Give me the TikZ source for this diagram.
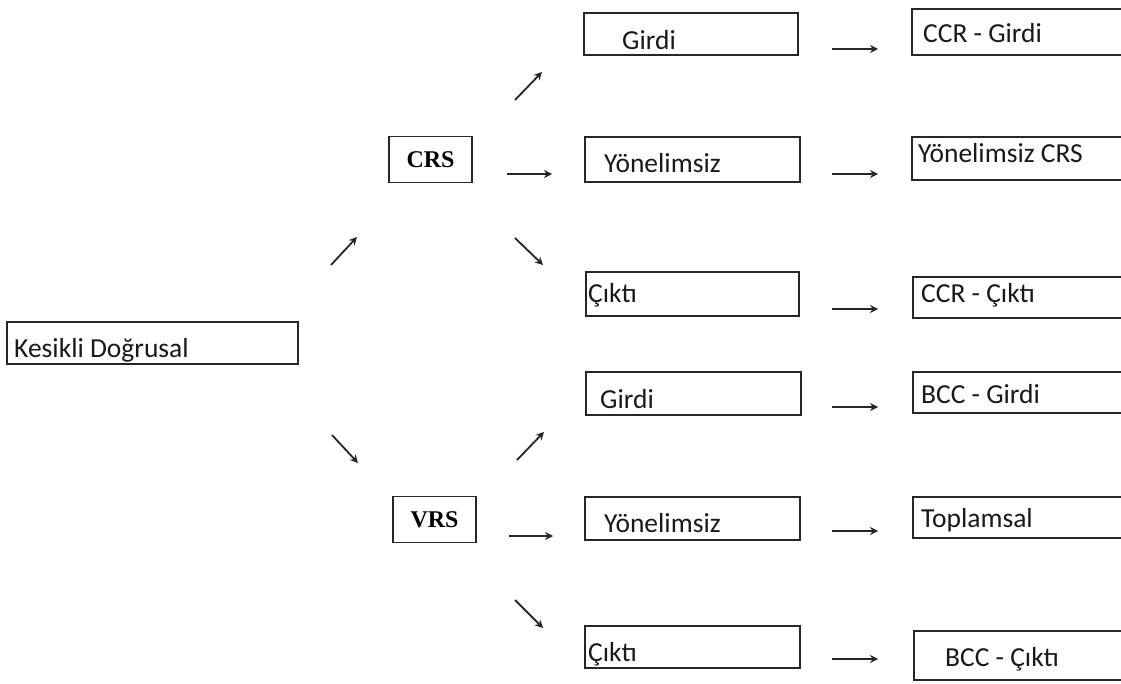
\documentclass[tikz,border=0pt]{standalone}
\usepackage{fontspec}
\setmainfont{Carlito}
\newfontfamily\serifbold{Liberation Serif}
\usetikzlibrary{arrows.meta}
\begin{document}
\begin{tikzpicture}[x=1pt,y=-1pt,
  box/.style={draw=black!85,line width=1.6pt},
  lbl/.style={anchor=base west,inner sep=0pt,font=\fontsize{27.5}{30}\selectfont,text=black!90},
  rs/.style={draw=black!85,line width=1.6pt,minimum width=83pt,minimum height=46pt,inner sep=0pt,font=\serifbold\bfseries\fontsize{24}{27}\selectfont},
  arr/.style={draw=black!85,line width=1.8pt,-{Stealth[length=8pt,width=8pt]}}]
\clip (0,0) rectangle (1121,684);
\fill[white] (0,0) rectangle (1121,684);
% boxes
\draw[box] (7,322) rectangle (298,364) coordinate[pos=0.5] (kd);
\node[rs] (crs) at (430.5,159.5) {CRS};
\node[rs] (vrs) at (434.5,519.5) {VRS};
% middle boxes
\draw[box] (584,13) rectangle (798,55) coordinate[pos=0.5] (m1);
\draw[box] (585,137) rectangle (800,182) coordinate[pos=0.5] (m2);
\draw[box] (586,272) rectangle (799,316) coordinate[pos=0.5] (m3);
\draw[box] (586,372) rectangle (801,415) coordinate[pos=0.5] (m4);
\draw[box] (585,497) rectangle (800,540) coordinate[pos=0.5] (m5);
\draw[box] (585,626) rectangle (800,668) coordinate[pos=0.5] (m6);
% right boxes (cut off at right edge)
\draw[box] (912,9) rectangle (1140,55) coordinate[pos=0.5] (r1);
\draw[box] (912,137) rectangle (1140,180) coordinate[pos=0.5] (r2);
\draw[box] (913,277) rectangle (1140,318) coordinate[pos=0.5] (r3);
\draw[box] (913,372) rectangle (1140,413) coordinate[pos=0.5] (r4);
\draw[box] (913,497) rectangle (1140,538) coordinate[pos=0.5] (r5);
\draw[box] (914,631) rectangle (1140,680) coordinate[pos=0.5] (r6);
% labels
\node[lbl] (tkd) at (14,357) {Kesikli Doğrusal};
\node[lbl] (t1) at (622,50) {Girdi};
\node[lbl] (t2) at (604,173) {Yönelimsiz};
\node[lbl] (t3) at (588,303) {Çıktı};
\node[lbl] (t4) at (600,408) {Girdi};
\node[lbl] (t5) at (604,532) {Yönelimsiz};
\node[lbl] (t6) at (588,661) {Çıktı};
\node[lbl] (u1) at (923,43) {CCR - Girdi};
\node[lbl] (u2) at (918,163) {Yönelimsiz CRS};
\node[lbl] (u3) at (921,303) {CCR - Çıktı};
\node[lbl] (u4) at (921,403) {BCC - Girdi};
\node[lbl] (u5) at (921,527) {Toplamsal};
\node[lbl] (u6) at (945,666) {BCC - Çıktı};
% arrow end points
\coordinate (a1s) at (331,265); \coordinate (a1e) at (357,237);
\coordinate (a2s) at (332,435); \coordinate (a2e) at (358,463);
\coordinate (b1s) at (515,100); \coordinate (b1e) at (542,72);
\coordinate (b2s) at (507,174); \coordinate (b2e) at (552,174);
\coordinate (b3s) at (515,238); \coordinate (b3e) at (543,265);
\coordinate (c1s) at (517,460); \coordinate (c1e) at (544,432);
\coordinate (c2s) at (509,536); \coordinate (c2e) at (553,536);
\coordinate (c3s) at (515,600); \coordinate (c3e) at (543,628);
\foreach \y/\n in {49/1,174/2,309/3,407/4,531/5,659/6}{
  \coordinate (h\n s) at (832,\y); \coordinate (h\n e) at (878,\y);
}
\foreach \a in {a1,a2,b1,b2,b3,c1,c2,c3,h1,h2,h3,h4,h5,h6}{
  \draw[arr] (\a s) -- (\a e);
}
\end{tikzpicture}
\end{document}
